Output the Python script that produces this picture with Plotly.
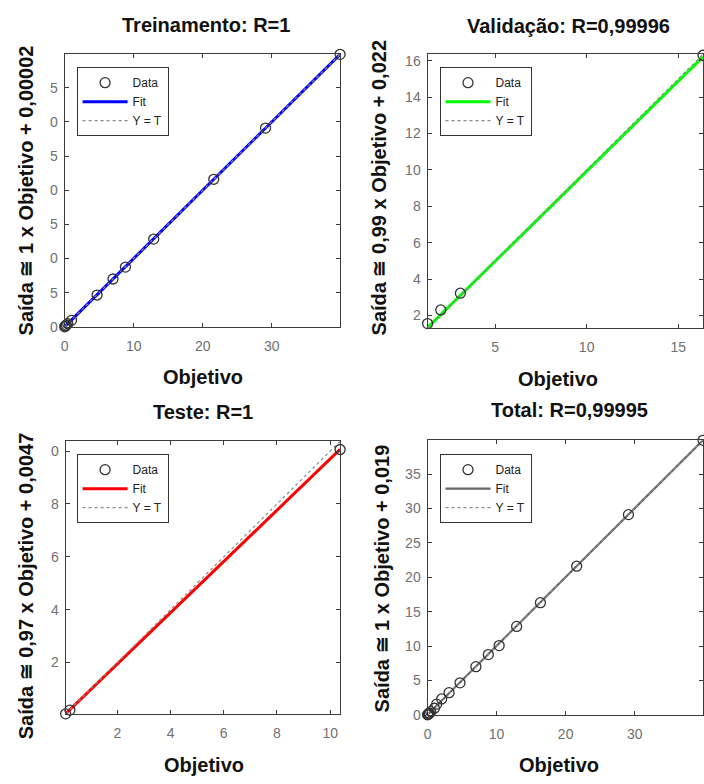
import plotly.graph_objects as go

# ---------------- data ----------------
panel_titles = ["Treinamento: R=1", "Validação: R=0,99996", "Teste: R=1", "Total: R=0,99995"]
fit_slopes = [1.0, 0.99, 0.97, 1.0]
fit_intercepts = [0.00002, 0.022, 0.0047, 0.019]
slope_labels = ["1", "0,99", "0,97", "1"]
intercept_labels = ["0,00002", "0,022", "0,0047", "0,019"]
fit_colors = ["#0000ff", "#00ff00", "#ff0000", "#666666"]

train_targets = [0.0, 0.12, 0.25, 0.45, 1.0, 4.7, 7.0, 8.8, 12.9, 21.6, 29.1, 39.9]
train_outputs = [0.0, 0.12, 0.25, 0.45, 0.95, 4.65, 7.0, 8.75, 12.85, 21.6, 29.1, 39.9]
val_targets = [1.32, 2.04, 3.11, 16.35]
val_outputs = [1.55, 2.3, 3.22, 16.3]
test_targets = [0.06, 0.22, 10.37]
test_outputs = [0.06, 0.2, 10.06]
total_targets = train_targets + val_targets + test_targets
total_outputs = train_outputs + val_outputs + test_outputs

x_tickvals = [[0, 10, 20, 30], [5, 10, 15], [2, 4, 6, 8, 10], [0, 10, 20, 30]]
x_ticktext = [["0", "10", "20", "30"], ["5", "10", "15"], ["2", "4", "6", "8", "10"], ["0", "10", "20", "30"]]
y_tickvals = [[0, 5, 10, 15, 20, 25, 30, 35], [2, 4, 6, 8, 10, 12, 14, 16],
              [2, 4, 6, 8, 10], [0, 5, 10, 15, 20, 25, 30, 35]]
y_ticktext = [["0", "5", "0", "5", "0", "5", "0", "5"], ["2", "4", "6", "8", "10", "12", "14", "16"],
              ["2", "4", "6", "8", "0"], ["0", "5", "10", "15", "20", "25", "30", "35"]]

targets = [train_targets, val_targets, test_targets, total_targets]
outputs = [train_outputs, val_outputs, test_outputs, total_outputs]

# ---------------- layout geometry (pixels) ----------------
W, H = 704, 784
boxes = [(61, 53, 338, 329), (426, 53, 703, 330), (62, 445, 338, 721), (426, 444, 703, 722)]
title_pos = [(203, 23), (568, 24), (200, 415), (569, 413)]
xtitle_pos = [(200, 380), (557, 382), (201, 773), (558, 773)]
ytitle_pos = [(22, 191), (377, 188), (23, 591), (380, 584)]
legend_pos = [(73, 66), (438, 66), (73, 458), (438, 458)]

FONT = "Liberation Sans, Arial, sans-serif"
AX = "#3c3c3c"
TICK = "#707070"

fig = go.Figure()
layout = dict(width=W, height=H, margin=dict(l=0, r=0, t=0, b=0),
              plot_bgcolor="white", paper_bgcolor="white",
              font=dict(family=FONT), annotations=[])

for i in range(4):
    sfx = "" if i == 0 else str(i + 1)
    xa, ya = "x" + sfx, "y" + sfx
    leg = "legend" + sfx
    t, o = targets[i], outputs[i]
    lo = min(min(t), min(o))
    hi = max(max(t), max(o))
    m, b = fit_slopes[i], fit_intercepts[i]

    fig.add_trace(go.Scatter(x=[lo, hi], y=[m * lo + b, m * hi + b], mode="lines",
                             line=dict(color=fit_colors[i], width=3 if i < 3 else 2.2),
                             name="Fit", xaxis=xa, yaxis=ya, legend=leg, legendrank=2))
    fig.add_trace(go.Scatter(x=[lo, hi], y=[lo, hi], mode="lines",
                             line=dict(color="#8a8a8a", width=1.2, dash="dot"),
                             name="Y = T", xaxis=xa, yaxis=ya, legend=leg, legendrank=3))
    fig.add_trace(go.Scatter(x=t, y=o, mode="markers", cliponaxis=False,
                             marker=dict(symbol="circle-open", size=10, color="#333333",
                                         line=dict(width=1.3, color="#333333")),
                             name="Data", xaxis=xa, yaxis=ya, legend=leg, legendrank=1))

    x0, y0, x1, y1 = boxes[i]
    axis_common = dict(showline=True, linecolor=AX, linewidth=1.2, mirror="ticks",
                       ticks="inside", ticklen=4, tickcolor=AX, tickwidth=1,
                       showgrid=False, zeroline=False,
                       tickfont=dict(family=FONT, size=14, color=TICK))
    layout["xaxis" + sfx] = dict(domain=[x0 / W, x1 / W], anchor=ya, range=[lo, hi],
                                 tickmode="array", tickvals=x_tickvals[i], ticktext=x_ticktext[i],
                                 ticklabelstandoff=6, **axis_common)
    layout["yaxis" + sfx] = dict(domain=[1 - y1 / H, 1 - y0 / H], anchor=xa, range=[lo, hi],
                                 tickmode="array", tickvals=y_tickvals[i], ticktext=y_ticktext[i],
                                 ticklabelstandoff=3, **axis_common)
    lx, ly = legend_pos[i]
    layout[leg] = dict(x=lx / W, y=1 - ly / H, xanchor="left", yanchor="top",
                       bgcolor="white", bordercolor="#333333", borderwidth=1,
                       font=dict(family=FONT, size=12, color="#222222"),
                       itemwidth=45, tracegroupgap=0)

    tx, ty = title_pos[i]
    layout["annotations"].append(dict(text=panel_titles[i], x=tx / W, y=1 - ty / H,
                                      xref="paper", yref="paper", showarrow=False,
                                      xanchor="center", yanchor="middle",
                                      font=dict(family=FONT, size=20, color="#111111", weight="bold")))
    ox, oy = xtitle_pos[i]
    layout["annotations"].append(dict(text="Objetivo", x=ox / W, y=1 - oy / H,
                                      xref="paper", yref="paper", showarrow=False,
                                      xanchor="center", yanchor="middle",
                                      font=dict(family=FONT, size=20, color="#111111", weight="bold")))
    vx, vy = ytitle_pos[i]
    layout["annotations"].append(dict(text=f"Saída ≅ {slope_labels[i]} x Objetivo + {intercept_labels[i]}",
                                      x=vx / W, y=1 - vy / H, textangle=-90,
                                      xref="paper", yref="paper", showarrow=False,
                                      xanchor="center", yanchor="middle",
                                      font=dict(family=FONT, size=20, color="#111111", weight="bold")))

fig.update_layout(**layout)
fig.write_html("out.html")
